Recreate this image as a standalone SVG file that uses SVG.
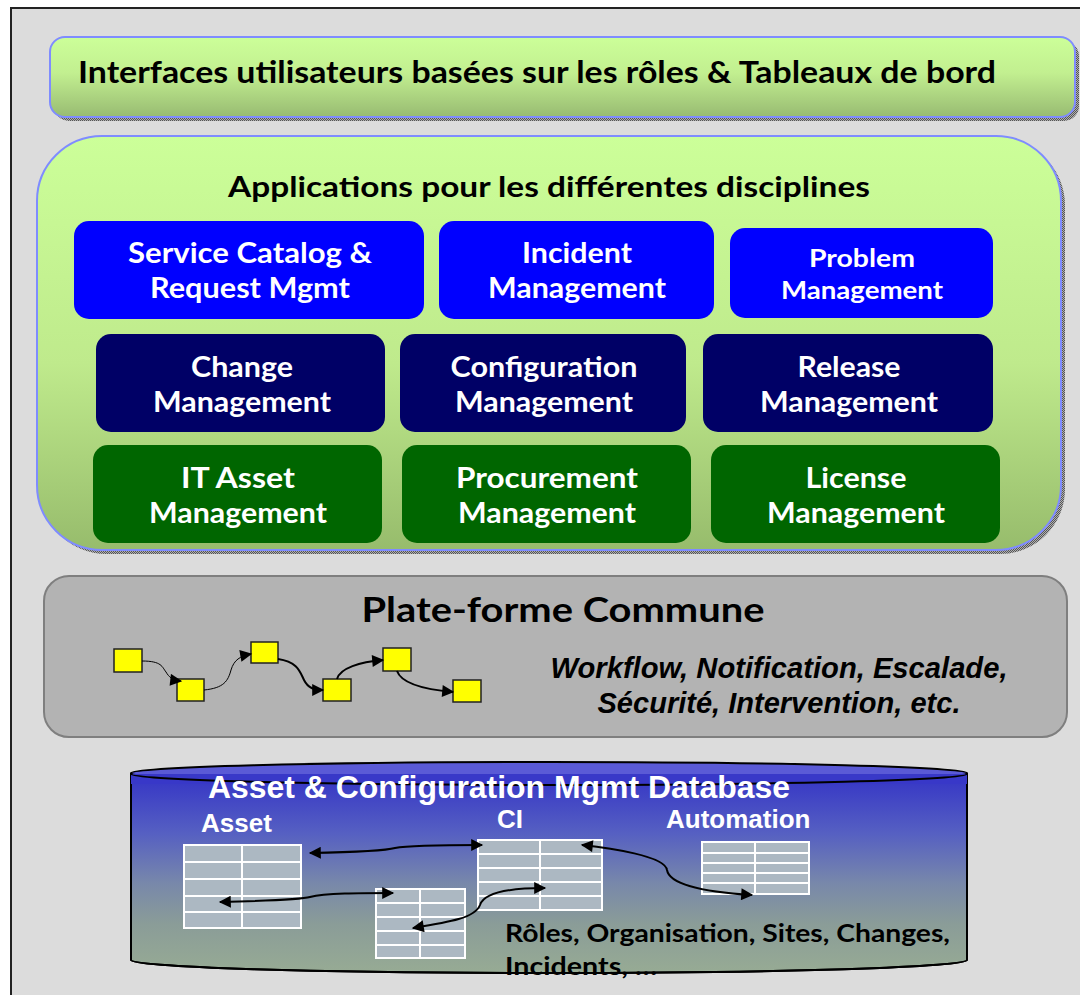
<svg xmlns="http://www.w3.org/2000/svg" width="1080" height="995" viewBox="0 0 1080 995">
<defs>
<style>
.gs{font-family:Lato,"Open Sans","DejaVu Sans",sans-serif;font-weight:bold}
.ar{font-family:"Liberation Sans",Arial,sans-serif;font-weight:bold}
.wt{fill:#ffffff}
.bk{fill:#000000}
.mid{text-anchor:middle}
.box-blue{fill:#0000ff}
.box-navy{fill:#000066}
.box-green{fill:#006600}
.wf{fill:#ffff00;stroke:#222;stroke-width:1.5}
.cell{fill:#acb8c2;stroke:#ffffff;stroke-width:2}
.flow{fill:none;stroke:#000;}
</style>
<linearGradient id="gBanner" x1="0" y1="0" x2="0" y2="1">
<stop offset="0" stop-color="#ccff99"/><stop offset="0.45" stop-color="#c2ef90"/><stop offset="1" stop-color="#98bb72"/>
</linearGradient>
<linearGradient id="gPanel" x1="0" y1="0" x2="0" y2="1">
<stop offset="0" stop-color="#ccff99"/><stop offset="0.55" stop-color="#bfea8c"/><stop offset="1" stop-color="#97bc6c"/>
</linearGradient>
<linearGradient id="gDb" x1="0" y1="0" x2="0" y2="1">
<stop offset="0" stop-color="#3434c6"/><stop offset="0.3" stop-color="#5660c2"/><stop offset="0.55" stop-color="#7888aa"/><stop offset="0.75" stop-color="#8a9c98"/><stop offset="1" stop-color="#97ab94"/>
</linearGradient>
<pattern id="dith" width="2" height="2" patternUnits="userSpaceOnUse">
<rect width="2" height="2" fill="#b0b0b0"/><rect width="1" height="1" fill="#555"/><rect x="1" y="1" width="1" height="1" fill="#555"/>
</pattern>
<marker id="ah" viewBox="0 0 10 10" refX="9" refY="5" markerWidth="15" markerHeight="12" markerUnits="userSpaceOnUse" orient="auto-start-reverse">
<path d="M0,0 L10,5 L0,10 z" fill="#000"/>
</marker>
</defs>

<rect width="1080" height="995" fill="#ffffff"/>
<rect x="11" y="8" width="1080" height="1000" fill="#dcdcdc" stroke="#222" stroke-width="2"/>

<g id="banner">
<rect x="54" y="41" width="1025" height="80" rx="15" fill="url(#dith)"/>
<rect x="50" y="37" width="1025" height="80" rx="15" fill="url(#gBanner)" stroke="#7f8cff" stroke-width="2"/>
<text x="78" y="83" class="gs bk" font-size="30" textLength="918" lengthAdjust="spacingAndGlyphs">Interfaces utilisateurs basées sur les rôles &amp; Tableaux de bord</text>
</g>

<g id="applications">
<rect x="41" y="140" width="1024" height="414" rx="65" fill="url(#dith)"/>
<rect x="37" y="136" width="1024" height="414" rx="65" fill="url(#gPanel)" stroke="#7f8cff" stroke-width="2"/>
<text x="549" y="197" class="gs bk mid" font-size="29" textLength="642" lengthAdjust="spacingAndGlyphs">Applications pour les différentes disciplines</text>
</g>

<g id="service-catalog">
<rect x="74" y="221" width="350" height="98" rx="15" class="box-blue"/>
<text x="250" y="263" class="gs wt mid" font-size="28" textLength="244" lengthAdjust="spacingAndGlyphs">Service Catalog &amp;</text>
<text x="250" y="298" class="gs wt mid" font-size="28" textLength="200" lengthAdjust="spacingAndGlyphs">Request Mgmt</text>
</g>
<g id="incident">
<rect x="439" y="221" width="275" height="98" rx="15" class="box-blue"/>
<text x="577" y="263" class="gs wt mid" font-size="28" textLength="110" lengthAdjust="spacingAndGlyphs">Incident</text>
<text x="577" y="298" class="gs wt mid" font-size="28" textLength="178" lengthAdjust="spacingAndGlyphs">Management</text>
</g>
<g id="problem">
<rect x="730" y="228" width="263" height="90" rx="15" class="box-blue"/>
<text x="862" y="267" class="gs wt mid" font-size="24" textLength="106" lengthAdjust="spacingAndGlyphs">Problem</text>
<text x="862" y="299" class="gs wt mid" font-size="24" textLength="162" lengthAdjust="spacingAndGlyphs">Management</text>
</g>

<g id="change">
<rect x="96" y="334" width="289" height="98" rx="15" class="box-navy"/>
<text x="242" y="377" class="gs wt mid" font-size="28" textLength="102" lengthAdjust="spacingAndGlyphs">Change</text>
<text x="242" y="412" class="gs wt mid" font-size="28" textLength="178" lengthAdjust="spacingAndGlyphs">Management</text>
</g>
<g id="configuration">
<rect x="400" y="334" width="286" height="98" rx="15" class="box-navy"/>
<text x="544" y="377" class="gs wt mid" font-size="28" textLength="187" lengthAdjust="spacingAndGlyphs">Configuration</text>
<text x="544" y="412" class="gs wt mid" font-size="28" textLength="178" lengthAdjust="spacingAndGlyphs">Management</text>
</g>
<g id="release">
<rect x="703" y="334" width="290" height="98" rx="15" class="box-navy"/>
<text x="849" y="377" class="gs wt mid" font-size="28" textLength="103" lengthAdjust="spacingAndGlyphs">Release</text>
<text x="849" y="412" class="gs wt mid" font-size="28" textLength="178" lengthAdjust="spacingAndGlyphs">Management</text>
</g>

<g id="it-asset">
<rect x="93" y="445" width="289" height="98" rx="15" class="box-green"/>
<text x="238" y="488" class="gs wt mid" font-size="28" textLength="114" lengthAdjust="spacingAndGlyphs">IT Asset</text>
<text x="238" y="523" class="gs wt mid" font-size="28" textLength="178" lengthAdjust="spacingAndGlyphs">Management</text>
</g>
<g id="procurement">
<rect x="402" y="445" width="289" height="98" rx="15" class="box-green"/>
<text x="547" y="488" class="gs wt mid" font-size="28" textLength="182" lengthAdjust="spacingAndGlyphs">Procurement</text>
<text x="547" y="523" class="gs wt mid" font-size="28" textLength="178" lengthAdjust="spacingAndGlyphs">Management</text>
</g>
<g id="license">
<rect x="711" y="445" width="289" height="98" rx="15" class="box-green"/>
<text x="856" y="488" class="gs wt mid" font-size="28" textLength="101" lengthAdjust="spacingAndGlyphs">License</text>
<text x="856" y="523" class="gs wt mid" font-size="28" textLength="178" lengthAdjust="spacingAndGlyphs">Management</text>
</g>

<g id="platform">
<rect x="44" y="576" width="1023" height="161" rx="25" fill="#b3b3b3" stroke="#7f7f7f" stroke-width="2"/>
<text x="563" y="622" class="gs bk mid" font-size="34" textLength="403" lengthAdjust="spacingAndGlyphs">Plate-forme Commune</text>
<text x="779" y="678" class="ar bk mid" font-size="29" font-style="italic" textLength="457" lengthAdjust="spacingAndGlyphs">Workflow, Notification, Escalade,</text>
<text x="779" y="713" class="ar bk mid" font-size="29" font-style="italic" textLength="363" lengthAdjust="spacingAndGlyphs">Sécurité, Intervention, etc.</text>
</g>

<g id="workflow-steps">
<rect x="114" y="649" width="28" height="23" class="wf"/>
<rect x="177" y="679" width="27" height="22" class="wf"/>
<rect x="251" y="642" width="27" height="21" class="wf"/>
<rect x="323" y="679" width="28" height="22" class="wf"/>
<rect x="383" y="648" width="28" height="23" class="wf"/>
<rect x="453" y="680" width="28" height="22" class="wf"/>
</g>

<g id="database">
<path d="M131,774 L131,960 A418,13 0 0 0 967,960 L967,774 Z" fill="url(#gDb)" stroke="#000" stroke-width="2"/>
<ellipse cx="549" cy="773" rx="418" ry="11" fill="#5a5ad6" stroke="#000" stroke-width="2"/>
<rect x="131" y="774" width="836" height="10" fill="#3838c8"/>
<path d="M131,774 A418,11 0 0 0 967,774" fill="none" stroke="#000" stroke-width="2"/>
<text x="208" y="798" class="ar wt" font-size="32" textLength="582" lengthAdjust="spacingAndGlyphs">Asset &amp; Configuration Mgmt Database</text>
<text x="201" y="832" class="ar wt" font-size="26">Asset</text>
<text x="497" y="828" class="ar wt" font-size="26">CI</text>
<text x="666" y="828" class="ar wt" font-size="26">Automation</text>
<text x="505" y="942" class="gs bk" font-size="25" textLength="445" lengthAdjust="spacingAndGlyphs">Rôles, Organisation, Sites, Changes,</text>
<text x="505" y="975" class="gs bk" font-size="25" textLength="152" lengthAdjust="spacingAndGlyphs">Incidents, …</text>
<path d="M131,960 A418,13 0 0 0 967,960" fill="none" stroke="#000" stroke-width="2"/>
</g>

<g id="table-asset">
<rect x="184" y="845" width="58" height="17" class="cell"/><rect x="242" y="845" width="59" height="17" class="cell"/>
<rect x="184" y="862" width="58" height="17" class="cell"/><rect x="242" y="862" width="59" height="17" class="cell"/>
<rect x="184" y="879" width="58" height="17" class="cell"/><rect x="242" y="879" width="59" height="17" class="cell"/>
<rect x="184" y="896" width="58" height="16" class="cell"/><rect x="242" y="896" width="59" height="16" class="cell"/>
<rect x="184" y="912" width="58" height="16" class="cell"/><rect x="242" y="912" width="59" height="16" class="cell"/>
</g>
<g id="table-link">
<rect x="376" y="889" width="44" height="14" class="cell"/><rect x="420" y="889" width="45" height="14" class="cell"/>
<rect x="376" y="903" width="44" height="14" class="cell"/><rect x="420" y="903" width="45" height="14" class="cell"/>
<rect x="376" y="917" width="44" height="14" class="cell"/><rect x="420" y="917" width="45" height="14" class="cell"/>
<rect x="376" y="931" width="44" height="14" class="cell"/><rect x="420" y="931" width="45" height="14" class="cell"/>
<rect x="376" y="945" width="44" height="13" class="cell"/><rect x="420" y="945" width="45" height="13" class="cell"/>
</g>
<g id="table-ci">
<rect x="478" y="840" width="62" height="14" class="cell"/><rect x="540" y="840" width="62" height="14" class="cell"/>
<rect x="478" y="854" width="62" height="14" class="cell"/><rect x="540" y="854" width="62" height="14" class="cell"/>
<rect x="478" y="868" width="62" height="14" class="cell"/><rect x="540" y="868" width="62" height="14" class="cell"/>
<rect x="478" y="882" width="62" height="14" class="cell"/><rect x="540" y="882" width="62" height="14" class="cell"/>
<rect x="478" y="896" width="62" height="14" class="cell"/><rect x="540" y="896" width="62" height="14" class="cell"/>
</g>
<g id="table-automation">
<rect x="702" y="842" width="53" height="11" class="cell"/><rect x="755" y="842" width="54" height="11" class="cell"/>
<rect x="702" y="853" width="53" height="10" class="cell"/><rect x="755" y="853" width="54" height="10" class="cell"/>
<rect x="702" y="863" width="53" height="10" class="cell"/><rect x="755" y="863" width="54" height="10" class="cell"/>
<rect x="702" y="873" width="53" height="10" class="cell"/><rect x="755" y="873" width="54" height="10" class="cell"/>
<rect x="702" y="883" width="53" height="11" class="cell"/><rect x="755" y="883" width="54" height="11" class="cell"/>
</g>

<g id="connectors">
<path class="flow" stroke-width="1" d="M142,661 C162,661 162,667 166,672 C169,677 172,680 181,681" marker-end="url(#ah)"/>
<path class="flow" stroke-width="1" d="M204,690 C224,688 228,681 231,670 C234,660 240,656 251,654" marker-end="url(#ah)"/>
<path class="flow" stroke-width="2" d="M278,659 C298,662 300,672 304,680 C308,688 314,690 323,690" marker-end="url(#ah)"/>
<path class="flow" stroke-width="2" d="M337,679 C340,668 360,662 383,660" marker-end="url(#ah)"/>
<path class="flow" stroke-width="2" d="M397,671 C402,685 430,690 453,692" marker-end="url(#ah)"/>
<path class="flow" stroke-width="2" d="M310,853 C360,852 385,851 395,848 C410,845 450,845 482,845" marker-start="url(#ah)" marker-end="url(#ah)"/>
<path class="flow" stroke-width="2" d="M220,902 C260,901 300,900 310,897 C325,893 360,893 393,893" marker-start="url(#ah)" marker-end="url(#ah)"/>
<path class="flow" stroke-width="2" d="M413,928 C450,922 475,918 480,905 C485,890 520,888 545,888" marker-start="url(#ah)" marker-end="url(#ah)"/>
<path class="flow" stroke-width="2" d="M582,845 C610,848 665,856 667,870 C670,888 720,893 752,895" marker-start="url(#ah)" marker-end="url(#ah)"/>
</g>
</svg>
